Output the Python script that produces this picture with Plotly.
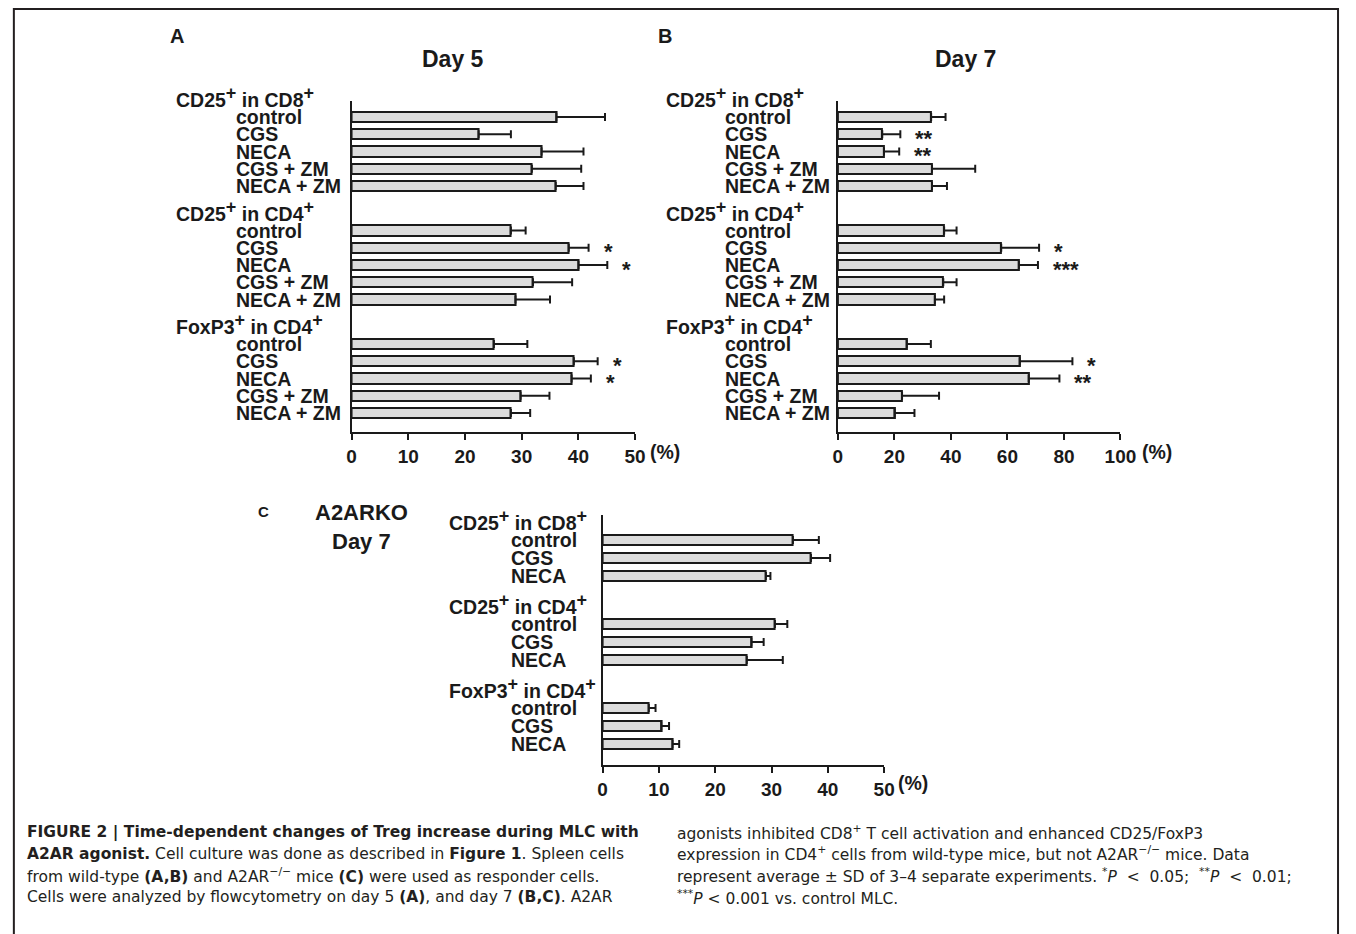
import plotly.graph_objects as go

W, H = 1356, 934
FONT = "Liberation Sans, Arial, Helvetica, sans-serif"
CAPFONT = "DejaVu Sans, Liberation Sans, sans-serif"
INK = "#1a1a1a"

# ---------------- data ----------------
PLUS = "<sup><span style='font-size:18px'>+</span></sup>"
groups = ["CD25" + PLUS + " in CD8" + PLUS,
          "CD25" + PLUS + " in CD4" + PLUS,
          "FoxP3" + PLUS + " in CD4" + PLUS]
treat_ab = ["control", "CGS", "NECA", "CGS + ZM", "NECA + ZM"]
treat_c = ["control", "CGS", "NECA"]

# Panel A, Day 5 (%)
a_mean = [36.1, 22.4, 33.5, 31.8, 36.0,
          28.1, 38.3, 40.0, 32.0, 28.9,
          25.1, 39.2, 38.8, 29.8, 28.1]
a_sd = [8.6, 5.7, 7.4, 8.7, 4.9,
        2.6, 3.5, 5.1, 6.9, 6.1,
        5.9, 4.2, 3.4, 5.1, 3.4]
a_sig = ["", "", "", "", "",
         "", "*", "*", "", "",
         "", "*", "*", "", ""]

# Panel B, Day 7 (%)
b_mean = [33.0, 15.7, 16.3, 33.3, 33.3,
          37.6, 57.8, 64.0, 37.3, 34.3,
          24.3, 64.3, 67.5, 22.7, 20.0]
b_sd = [5.1, 6.4, 5.4, 15.3, 5.3,
        4.4, 13.4, 6.8, 4.7, 3.3,
        8.6, 18.7, 10.9, 13.1, 7.1]
b_sig = ["", "**", "**", "", "",
         "", "*", "***", "", "",
         "", "*", "**", "", ""]

# Panel C, A2ARKO Day 7 (%)
c_mean = [33.8, 37.0, 29.0,
          30.6, 26.4, 25.6,
          8.2, 10.4, 12.4]
c_sd = [4.6, 3.4, 0.8,
        2.2, 2.2, 6.4,
        1.2, 1.4, 1.2]

ticks_a = [0, 10, 20, 30, 40, 50]
ticks_b = [0, 20, 40, 60, 80, 100]
ticks_c = [0, 10, 20, 30, 40, 50]

# ---------------- layout helpers ----------------
def px(x):
    return x / W

def py(y):
    return 1 - y / H

GSTEP_AB = 6.58
GSTEP_C = 4.67
rows_ab = [g * GSTEP_AB + i for g in range(3) for i in range(5)]
rows_c = [g * GSTEP_C + i for g in range(3) for i in range(3)]

ab_top, ab_bot, ab_first, row_px_ab = 101, 432, 117, 17.25
c_top, c_bot, c_first, row_px_c = 515, 765, 540, 18.0
rng_ab = [(ab_bot - ab_first) / row_px_ab, (ab_top - ab_first) / row_px_ab]
rng_c = [(c_bot - c_first) / row_px_c, (c_top - c_first) / row_px_c]

fig = go.Figure()

def add_bars(xa, ya, mean, sd, rows, width):
    fig.add_trace(go.Bar(
        x=mean, y=rows, orientation="h", width=width,
        xaxis=xa, yaxis=ya,
        marker=dict(color="#dcdcdc", line=dict(color=INK, width=2)),
        error_x=dict(type="data", symmetric=False, array=sd,
                     arrayminus=[0] * len(sd), color=INK,
                     thickness=2, width=4),
        showlegend=False, hoverinfo="skip",
    ))

add_bars("x", "y", a_mean, a_sd, rows_ab, 0.6)
add_bars("x2", "y2", b_mean, b_sd, rows_ab, 0.6)
add_bars("x3", "y3", c_mean, c_sd, rows_c, 0.58)

def xaxis(dom, anchor, rng, ticks):
    return dict(domain=dom, anchor=anchor, range=rng, tickvals=ticks,
                ticktext=[str(t) for t in ticks],
                showgrid=False, zeroline=False, showline=True,
                linecolor=INK, linewidth=2, ticks="outside", ticklen=6,
                tickwidth=2, tickcolor=INK,
                tickfont=dict(family=FONT, size=19, color=INK, weight="bold"),
                fixedrange=True)

def yaxis(dom, anchor, rng):
    return dict(domain=dom, anchor=anchor, range=rng, showgrid=False,
                zeroline=False, showline=True, linecolor=INK, linewidth=2,
                showticklabels=False, ticks="", fixedrange=True)

fig.update_layout(
    width=W, height=H, autosize=False,
    margin=dict(l=0, r=0, t=0, b=0, pad=0),
    paper_bgcolor="white", plot_bgcolor="white",
    font=dict(family=FONT, color=INK),
    bargap=0,
    xaxis=xaxis([px(352), px(640)], "y", [0, 50], ticks_a),
    yaxis=yaxis([py(ab_bot), py(ab_top)], "x", rng_ab),
    xaxis2=xaxis([px(846), px(1133)], "y2", [0, 100], ticks_b),
    yaxis2=yaxis([py(ab_bot), py(ab_top)], "x2", rng_ab),
    xaxis3=xaxis([px(607), px(893)], "y3", [0, 50], ticks_c),
    yaxis3=yaxis([py(c_bot), py(c_top)], "x3", rng_c),
)

ann = []

def label(text, x, y, yref="paper", size=19.5, xanchor="left", color=INK,
          family=FONT, **kw):
    d = dict(text=text, x=x, y=y, xref="paper", yref=yref, showarrow=False,
             xanchor=xanchor, yanchor="middle",
             font=dict(family=family, size=size, color=color))
    d.update(kw)
    ann.append(d)

def panel_labels(yref, rows, treats, head_x, cat_x, first_px, row_px):
    n = len(treats)
    for g, gname in enumerate(groups):
        hy = first_px + rows[g * n] * row_px - 20
        label("<b>" + gname + "</b>", px(head_x), py(hy))
        for i, t in enumerate(treats):
            label("<b>" + t + "</b>", px(cat_x), rows[g * n + i], yref=yref)

panel_labels("y", rows_ab, treat_ab, 172, 233, ab_first, row_px_ab)
panel_labels("y2", rows_ab, treat_ab, 669, 729, ab_first, row_px_ab)
panel_labels("y3", rows_c, treat_c, 449, 512, c_first, row_px_c)

def stars(xref, yref, mean, sd, sig, rows):
    for m, s, g, r in zip(mean, sd, sig, rows):
        if g:
            ann.append(dict(text="<b>" + g + "</b>", x=m + s, y=r, xref=xref,
                            yref=yref, showarrow=False, xanchor="left",
                            yanchor="middle", xshift=13, yshift=-4,
                            font=dict(family=FONT, size=22, color=INK)))

stars("x", "y", a_mean, a_sd, a_sig, rows_ab)
stars("x2", "y2", b_mean, b_sd, b_sig, rows_ab)

# unit labels
label("<b>(%)</b>", px(670), py(452), xanchor="center")
label("<b>(%)</b>", px(1170), py(452), xanchor="center")
label("<b>(%)</b>", px(922), py(783), xanchor="center")

# panel letters and titles
label("<b>A</b>", px(175), py(36), size=20, xanchor="center")
label("<b>B</b>", px(670), py(36), size=20, xanchor="center")
label("<b>C</b>", px(263), py(511), size=15, xanchor="center")
label("<b>Day 5</b>", px(455), py(59), size=23, xanchor="center")
label("<b>Day 7</b>", px(976), py(59), size=23, xanchor="center")
label("<b>A2ARKO</b>", px(362), py(512), size=22, xanchor="center")
label("<b>Day 7</b>", px(362), py(541), size=22, xanchor="center")

# caption
CAP = 15.5
cap_color = "#231f20"
NB = "\u00a0"
left_lines = [
    "<b>FIGURE 2 | Time-dependent changes of Treg increase during MLC with</b>",
    "<b>A2AR agonist.</b> Cell culture was done as described in <b>Figure 1</b>. Spleen cells",
    "from wild-type <b>(A,B)</b> and A2AR<sup>\u2212/\u2212</sup> mice <b>(C)</b> were used as responder cells.",
    "Cells were analyzed by flowcytometry on day 5 <b>(A)</b>, and day 7 <b>(B,C)</b>. A2AR",
]
right_lines = [
    "agonists inhibited CD8<sup>+</sup> T cell activation and enhanced CD25/FoxP3",
    "expression in CD4<sup>+</sup> cells from wild-type mice, but not A2AR<sup>\u2212/\u2212</sup> mice. Data",
    "represent average \u00b1 SD of 3\u20134 separate experiments. <sup>*</sup><i>P</i>"
    + NB * 2 + "&lt;" + NB * 2 + "0.05;" + NB * 2 + "<sup>**</sup><i>P</i>"
    + NB * 2 + "&lt;" + NB * 2 + "0.01;",
    "<sup>***</sup><i>P</i> &lt; 0.001 vs. control MLC.",
]
cap_y = [832, 853.5, 875, 897]
for t, y in zip(left_lines, cap_y):
    label(t, px(20), py(y), size=CAP, color=cap_color, family=CAPFONT)
for t, y in zip(right_lines, cap_y):
    label(t, px(681), py(y), size=CAP, color=cap_color, family=CAPFONT)

fig.update_layout(annotations=ann)

# outer frame
fig.add_shape(type="rect", xref="paper", yref="paper",
              x0=px(9), x1=px(1354), y0=-0.05, y1=py(9),
              line=dict(color="#231f20", width=2), fillcolor="rgba(0,0,0,0)")

fig.write_html("out.html",
               config={"displayModeBar": False, "responsive": False},
               post_script="document.documentElement.style.margin='0';"
                           "document.documentElement.style.overflow='hidden';"
                           "document.body.style.margin='0';"
                           "document.body.style.padding='0';"
                           "document.body.style.overflow='hidden';")
